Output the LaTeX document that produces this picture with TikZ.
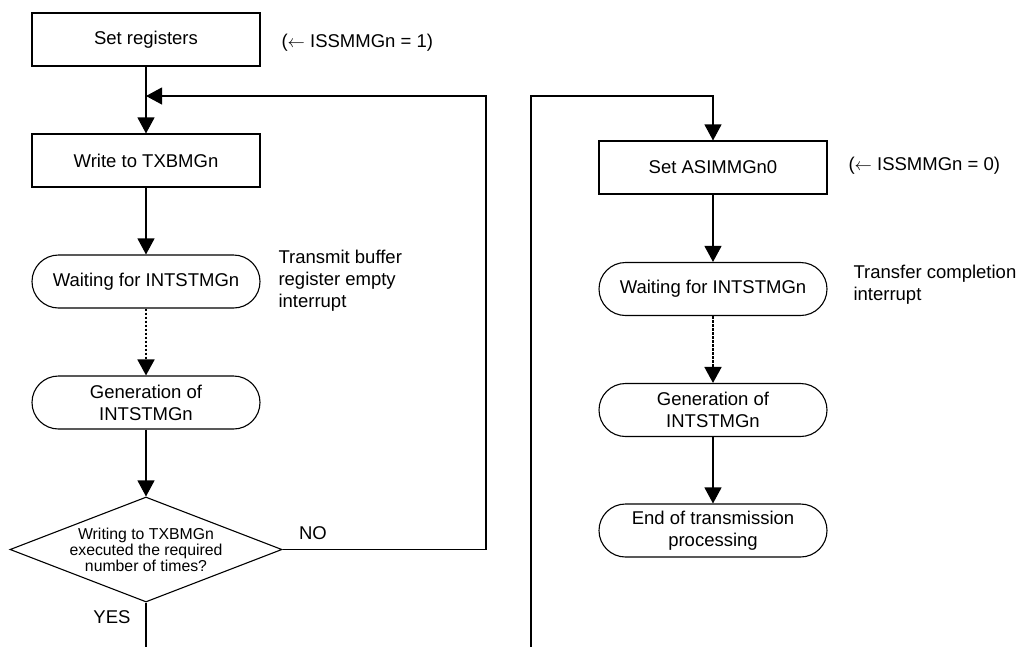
\documentclass[tikz,border=0pt]{standalone}
\usepackage{fontspec}
\setmainfont{Liberation Sans}
\usetikzlibrary{shapes.geometric,arrows.meta}
\begin{document}
\begin{tikzpicture}[x=1pt,y=-1pt,
  line width=1.1pt,
  every node/.style={font=\fontsize{18.5}{22}\selectfont},
  procbox/.style={draw,rectangle,minimum width=228pt,minimum height=53pt,inner sep=0pt,align=center},
  termbox/.style={draw,rectangle,rounded corners=26.5pt,minimum width=228pt,minimum height=53pt,inner sep=0pt,align=center},
  decbox/.style={draw,diamond,minimum width=272pt,minimum height=105pt,inner sep=0pt},
  dectext/.style={font=\fontsize{15.8}{16}\selectfont,align=center,inner sep=0pt},
  note/.style={anchor=west,align=left,inner sep=0pt},
  flow/.style={-{Triangle[width=17pt,length=16pt]}},
  dotflow/.style={-{Triangle[width=17pt,length=16pt]},dash pattern=on 2.5pt off 1.5pt,line width=1.8pt}
]
\useasboundingbox (0,0) rectangle (1018,646);
% left column
\node[procbox] (sr) at (146,39.5) {Set registers};
\node[procbox] (wr) at (146,160.5) {Write to TXBMGn};
\node[termbox] (w1) at (146,281.5) {Waiting for INTSTMGn};
\node[termbox] (g1) at (146,402.5) {Generation of\\INTSTMGn};
\node[decbox] (dec) at (146,549.5) {};
\node[dectext] (dect) at (dec.center) {Writing to TXBMGn\\executed the required\\number of times?};
\coordinate (join) at (146,96);
\coordinate (loopc) at (486,549.5);
\coordinate (yesend) at (146,650);
% right column
\node[procbox] (s2) at (713,167.5) {Set ASIMMGn0};
\node[termbox] (w2) at (713,289) {Waiting for INTSTMGn};
\node[termbox] (g2) at (713,410) {Generation of\\INTSTMGn};
\node[termbox] (en) at (713,530.5) {End of transmission\\processing};
\coordinate (rbot) at (531,650);
\coordinate (rtop) at (531,96);
% notes
\node[note] (n1) at (281,43) {($\leftarrow$ ISSMMGn = 1)};
\node[note] (n2) at (278,281) {Transmit buffer\\register empty\\interrupt};
\node[note] (n3) at (848,166) {($\leftarrow$ ISSMMGn = 0)};
\node[note] (n4) at (853,284.5) {Transfer completion\\interrupt};
\node (no) at (313,533) {NO};
\node (yes) at (112,617) {YES};
% connectors
\draw[flow] (sr) -- (wr);
\draw[flow] (wr) -- (w1);
\draw[dotflow] (w1) -- (g1);
\draw[flow] (g1) -- (dec.north);
\draw (dec.south) -- (yesend);
\draw[flow] (dec.east) -- (loopc) -- (486,96) -- (join);
\draw[flow] (rbot) -- (rtop) -| (s2.north);
\draw[flow] (s2) -- (w2);
\draw[dotflow] (w2) -- (g2);
\draw[flow] (g2) -- (en);
\end{tikzpicture}
\end{document}
